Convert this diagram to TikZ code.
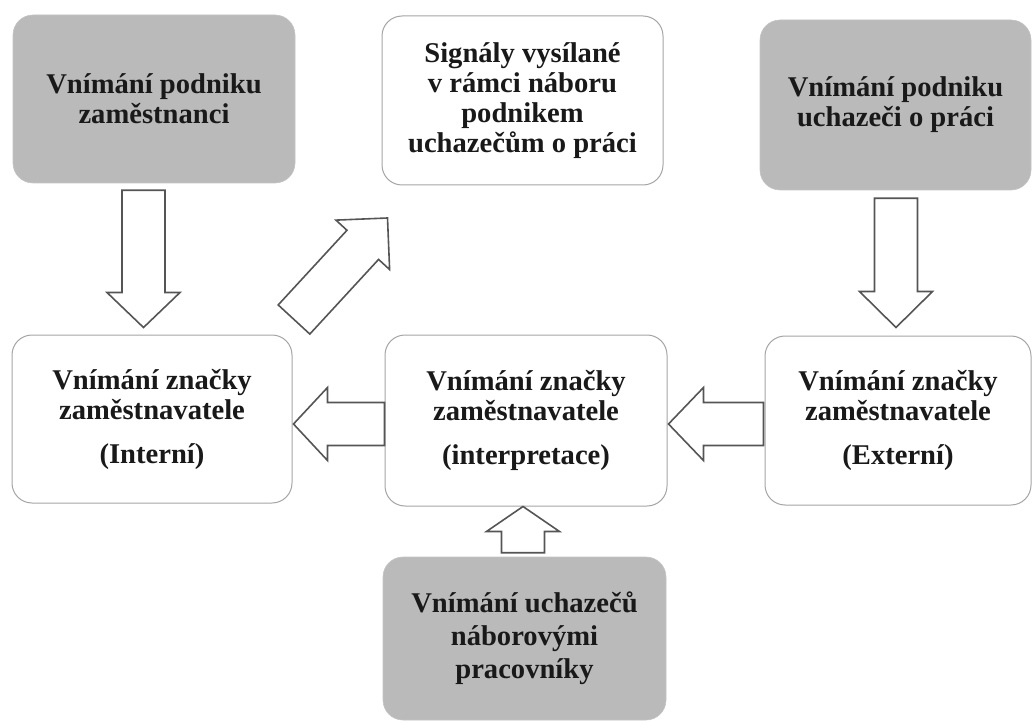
\documentclass[tikz,border=0pt]{standalone}
\usepackage{fontspec}
\setmainfont{Liberation Serif}
\usetikzlibrary{calc}
\definecolor{boxgray}{RGB}{186,186,186}
\definecolor{edgegray}{RGB}{165,165,165}
\definecolor{arrowline}{RGB}{85,85,85}
\definecolor{ink}{RGB}{25,25,25}

% Hollow block arrow from #1 to #2, head length #3 (all in pt)
\newcommand\blockarrow[3]{%
  \draw[barrow] let \p1=(#1), \p2=(#2),
    \n1={veclen(\x2-\x1,\y2-\y1)}, \n2={atan2(\y2-\y1,\x2-\x1)} in
    [shift={(\p1)}, rotate=\n2]
    (0,-21.5) -- ({\n1-#3},-21.5) -- ({\n1-#3},-36.5) -- (\n1,0)
    -- ({\n1-#3},36.5) -- ({\n1-#3},21.5) -- (0,21.5) -- cycle;}

\begin{document}
\begin{tikzpicture}[x=1pt,y=-1pt,
  box/.style={rounded corners=20pt, align=center, inner sep=0pt,
    font=\bfseries\fontsize{28.6}{30}\selectfont, text=ink},
  whitebox/.style={box, draw=edgegray, line width=1pt, fill=white},
  graybox/.style={box, fill=boxgray, draw=boxgray!85!white, line width=0.6pt},
  barrow/.style={draw=arrowline, line width=1.6pt, fill=white, line join=miter}]
\useasboundingbox (0,0) rectangle (1034,722);

% top row
\node[graybox, minimum width=282pt, minimum height=168pt] (emp) at (154,99)
  {Vnímání podniku\\zaměstnanci};
\node[whitebox, minimum width=281pt, minimum height=169pt] (sig) at (522.5,100.5)
  {Signály vysílané\\v rámci náboru\\podnikem\\uchazečům o práci};
\node[graybox, minimum width=271pt, minimum height=170pt] (app) at (895.5,105)
  {Vnímání podniku\\uchazeči o práci};

% middle row
\node[whitebox, minimum width=280pt, minimum height=168pt] (int) at (152,419)
  {Vnímání značky\\zaměstnavatele\\[14pt](Interní)};
\node[whitebox, minimum width=282pt, minimum height=171pt] (interp) at (526,420.5)
  {Vnímání značky\\zaměstnavatele\\[14pt](interpretace)};
\node[whitebox, minimum width=266pt, minimum height=169pt] (ext) at (898,420.5)
  {Vnímání značky\\zaměstnavatele\\[14pt](Externí)};

% bottom
\node[graybox, minimum width=283pt, minimum height=163pt] (rec) at (524.5,638.5)
  {Vnímání uchazečů\\[3pt]náborovými\\[3pt]pracovníky};

% arrow end points
\coordinate (a1s) at ($(emp.south)+(-10.5,7)$);
\coordinate (a1e) at ($(a1s |- int.north)+(0,-7)$);
\coordinate (a2s) at ($(int.north east)+(1.5,-15)$);
\coordinate (a2e) at ($(sig.south west)+(6,32.5)$);
\coordinate (a3s) at ($(app.south)+(0.5,8)$);
\coordinate (a3e) at ($(a3s |- ext.north)+(0,-8)$);
\coordinate (a4s) at ($(interp.west)+(0,3.5)$);
\coordinate (a4e) at ($(a4s -| int.east)+(1,0)$);
\coordinate (a5s) at ($(ext.west)+(-1,3.5)$);
\coordinate (a5e) at ($(a5s -| interp.east)+(1,0)$);
\coordinate (a6s) at ($(rec.north)+(-1.5,-4)$);
\coordinate (a6e) at (a6s |- interp.south);

\blockarrow{a1s}{a1e}{35}
\blockarrow{a2s}{a2e}{36.5}
\blockarrow{a3s}{a3e}{36}
\blockarrow{a4s}{a4e}{34}
\blockarrow{a5s}{a5e}{35}
\blockarrow{a6s}{a6e}{25}
\end{tikzpicture}
\end{document}
